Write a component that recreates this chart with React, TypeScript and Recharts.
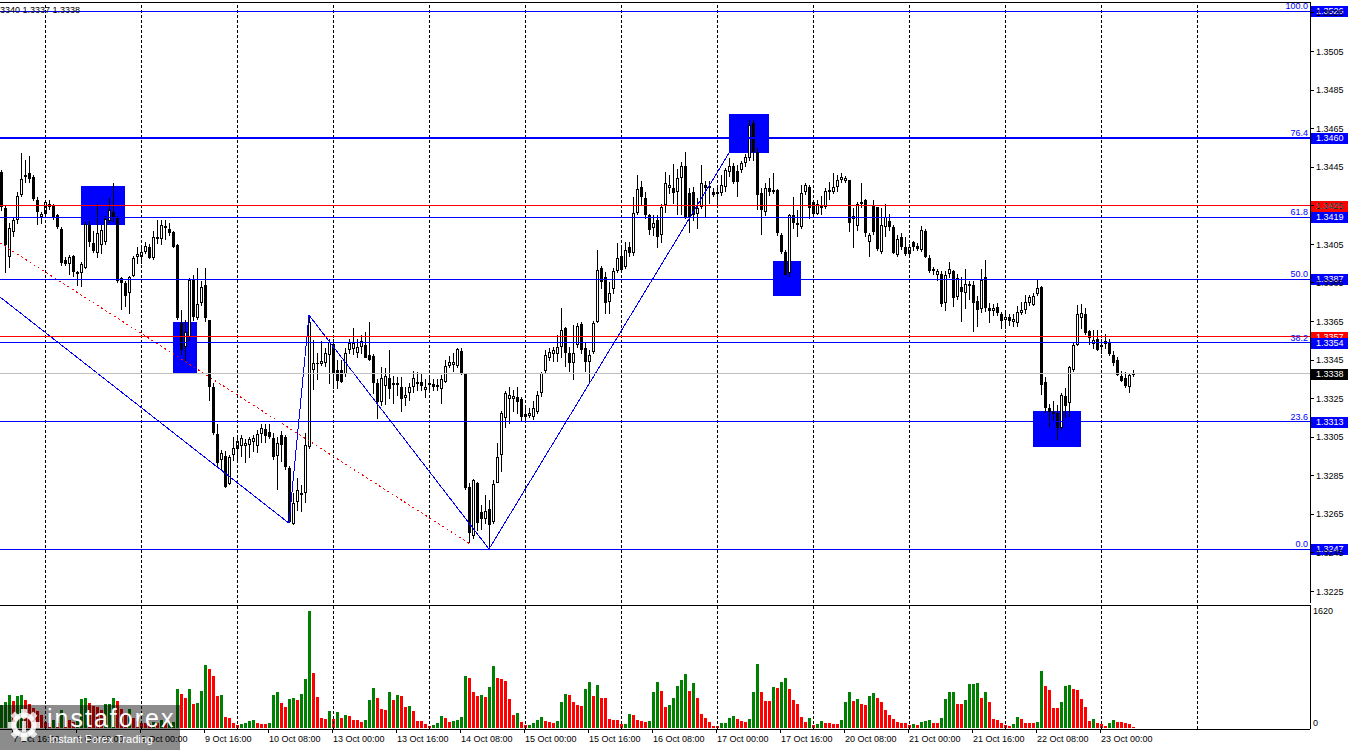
import React from 'react';
import { Bar, ComposedChart, ReferenceArea, ReferenceLine, XAxis, YAxis } from 'recharts';

// GBPUSD H1, prices kept in pips above 1.3000 (338 -> 1.3338)
const OPEN = [
  442.5, 424, 398.4, 411.4, 417.6, 430.6, 440, 442, 440, 428,
  419, 421, 426, 425, 420, 413, 397, 395, 399, 390.5,
  390, 393, 415, 405.6, 400.5, 404.6, 406, 417, 421.7, 419.2,
  387.5, 385, 379.7, 388.5, 398.5, 398.5, 401, 403.6, 398, 408,
  408, 413.6, 413, 411.4, 404.6, 364, 351.6, 356.9, 386.5, 366.8,
  374.6, 384, 365.7, 331, 306.6, 293.1, 295, 280.7, 295.6, 298.8,
  300.4, 300.4, 300.9, 302.5, 300.4, 306.6, 309, 307.6, 304.5, 295,
  306, 305, 289, 260, 271.5, 275, 276, 300, 339.8, 342.8,
  343, 343.4, 347.6, 353.3, 340, 340, 338, 350, 350.7, 348.6,
  352, 352.8, 347.6, 347, 333, 323, 331.5, 335.6, 332, 332,
  331, 325.5, 328, 331, 332.5, 333.5, 329.5, 332, 332.5, 331,
  330, 333.6, 342, 342.5, 342, 349.6, 337.7, 279.4, 254, 281.2,
  266, 262.5, 267.7, 261, 281.2, 295.6, 315, 325, 325, 326,
  324.7, 317, 316, 315.5, 318, 328, 339.3, 346, 348, 348,
  352, 361.5, 348.6, 343.4, 352.8, 363.6, 351, 343.9, 349, 364.7,
  392.7, 388, 375, 381.8, 391, 399, 393.2, 403.6, 400.5, 421.2,
  434.8, 429, 420, 413.5, 417.6, 409.8, 425.4, 434, 434, 432,
  439.4, 445.4, 431.6, 432, 421, 424.3, 436, 434, 432, 432,
  431.6, 434.8, 442.5, 445.4, 443, 443.5, 447, 449.8, 468, 452.8,
  431.6, 421.7, 434, 432, 433, 409.8, 401, 390, 420.3, 416,
  414, 432, 434.8, 427, 421, 424, 424.3, 432, 432, 434.8,
  438.3, 438, 438.3, 419.6, 414.6, 426, 428, 406, 425, 424.3,
  401, 414, 417, 414, 399.4, 408.8, 403.6, 400, 406, 404,
  402, 412, 398, 392.2, 389, 389.6, 374.6, 389.6, 391, 377.6,
  383, 380, 383.5, 384, 375.6, 371.4, 388, 372, 370.5, 372.5,
  369, 366, 367.5, 364.5, 364, 369.5, 370.9, 374.6, 373.5, 379.2,
  383, 333.6, 320, 318, 317.5, 309.7, 326.3, 322.7, 339.8, 352.8,
  366.8, 369, 360, 353.5, 356, 352, 353.3, 353.8, 347.6, 345,
  336.7, 335.6, 331, 337,
];
const HIGH = [
  443.5, 425, 416, 419, 432, 452.3, 449, 451, 441, 429.5,
  422, 428, 428, 426, 421, 414, 398.5, 399.5, 399.5, 391,
  396, 416.5, 417, 412, 426, 415, 419.5, 429, 436.8, 419.5,
  388, 386, 388.5, 399, 403.6, 403.6, 406, 405, 412, 417.6,
  417.6, 417.6, 416, 412, 405, 371, 365.7, 387.5, 389, 393,
  386, 393, 366, 333, 312, 298.5, 298, 295.5, 305, 306,
  306, 304, 305, 306, 308.7, 312, 312, 312, 307, 305,
  308, 306, 290, 276, 284, 280, 307, 368.3, 355.3, 348.6,
  355, 351, 356, 356, 345, 345, 351, 356, 361.6, 356,
  358, 359.6, 364.7, 348, 335, 341.3, 341, 350.2, 336.7, 336,
  336, 331, 333, 339.3, 339, 338, 335, 336.7, 335, 335,
  337, 345, 347, 348.6, 351.5, 351, 338, 281, 283.2, 282,
  269.8, 275, 272.5, 282.7, 302, 318.5, 329, 331, 329.5, 330.9,
  326, 320.5, 320, 324, 329, 339, 350, 351.5, 352, 358,
  372, 362, 352, 363, 364, 364.7, 354, 350, 365, 402,
  394, 390.6, 385.5, 392.7, 405.6, 404, 406, 406, 429.5, 441,
  438, 432, 421, 420, 420, 426, 442.5, 441, 446.6, 444,
  447.7, 452.8, 434, 434.6, 429, 446, 438, 438, 434, 436,
  441, 444.5, 450, 447, 446, 448, 452, 469.5, 469.5, 455,
  434, 437, 439.5, 442, 433.5, 411, 402, 421, 429.5, 423,
  436, 437, 436, 428, 428, 430, 434, 437.5, 442, 441,
  442, 440.5, 438.5, 424, 427, 436.8, 428.5, 411, 428, 424.5,
  424, 426, 421, 415, 410, 411, 409, 405, 407, 405.6,
  414.6, 412.8, 399.4, 393.5, 392, 391, 391, 396, 391.5, 389.6,
  388, 392, 386, 386, 378, 392, 397, 374.6, 374, 374.6,
  370, 370, 369, 369, 373, 375, 378.7, 378.5, 380, 386.5,
  383.5, 336, 322, 323.6, 321.7, 327.9, 330.4, 342, 354, 373.5,
  374, 372, 360.6, 360.6, 360.6, 356, 358.5, 356, 349.6, 346.6,
  339.3, 339, 338.3, 340,
];
const LOW = [
  422, 390, 392.7, 408.8, 415.5, 429.5, 437, 437, 427.5, 415,
  416, 420, 423, 417.6, 413, 394, 393.7, 389, 388, 383,
  382.8, 392, 403.6, 400.5, 398, 400, 404.5, 416, 416.5, 385,
  371, 372.5, 369, 388, 395, 395, 400, 397, 397, 405,
  404.6, 407, 409, 403, 365.5, 347.6, 343.9, 355, 365, 366,
  373, 365, 324, 306, 289.5, 288, 278.6, 280, 292.5, 293,
  294.6, 291.5, 294, 297, 296.8, 302, 302, 304, 293, 277.5,
  292, 288, 260.4, 259.5, 267, 266, 270.5, 299, 329.4, 334.6,
  342, 341, 332.5, 329.9, 330, 333, 336, 348, 347.6, 346,
  348, 346, 344.5, 327, 314, 321, 322, 324.7, 322, 326,
  318, 321, 323.5, 328, 329, 329, 325, 329, 329, 329,
  322, 333, 341, 338.6, 341, 337, 278, 250, 252, 256.8,
  257, 260, 247, 260, 281, 287, 310, 312, 318, 317,
  313, 312.4, 315, 314, 317, 326, 338, 344.5, 344, 344,
  346, 341, 339, 334.6, 351, 348, 339, 333, 348, 364,
  382, 369, 369, 379, 390, 390, 392, 398, 399, 420,
  425, 418, 410, 409, 403, 406, 421, 431, 426, 420,
  420, 418, 410.8, 417, 413, 423, 418.6, 426, 429.5, 425,
  430, 432, 440, 436, 429.5, 442, 445, 448, 448, 422.7,
  409.8, 420, 430, 431, 409, 400, 389, 388.5, 413, 409,
  413, 431, 418.6, 418.6, 420, 420, 423, 428, 431, 432,
  437, 437, 411.5, 403, 412, 424, 409, 398.4, 409.8, 401.5,
  400, 409, 412, 400, 398.4, 402, 399, 398, 402, 401.5,
  401, 398, 390, 389.5, 386, 372.5, 370.4, 387.5, 372.5, 376,
  364.7, 371, 376, 359.5, 362, 369, 370, 364, 368, 368,
  361, 361, 363, 362, 362, 368, 369, 373, 373, 378,
  327, 317.5, 310.2, 313, 303.4, 308.7, 315, 315.5, 339, 352,
  361, 358, 353, 350.6, 349.6, 348, 350.6, 347, 342, 337,
  333.5, 330.9, 328, 336.5,
];
const CLOSE = [
  424.3, 404.6, 413.5, 417.6, 430, 438.9, 441, 439, 428.5, 421.7,
  421, 427, 424.5, 419, 414, 395.3, 395, 398.5, 390.6, 389.5,
  394.8, 415.5, 406, 401.5, 411, 412.4, 418, 422.8, 419.2, 386,
  385, 378, 388, 397.8, 400, 401, 404, 398, 408.8, 409,
  415, 414.6, 411, 403.6, 366.8, 350.2, 359.5, 386.5, 367.3, 374,
  383, 366.8, 331, 307, 291.6, 296.8, 279, 294.6, 299.6, 303,
  304.5, 302, 303.9, 304.5, 306.6, 310, 305.6, 305, 294.6, 302,
  301, 289.5, 261, 271, 277.6, 276, 301, 364.7, 343.4, 343.4,
  344.5, 348.6, 354.3, 338.2, 334, 333.6, 348.6, 353.8, 353.8, 351.6,
  355, 346, 345, 333, 323, 335.6, 336.7, 330, 333, 333,
  324.7, 327, 331, 335.6, 333.5, 331.5, 331, 333, 331, 332,
  335, 342, 343.8, 344, 350.7, 338, 278.6, 255.2, 282.7, 260.4,
  262.5, 266.7, 259.4, 280.6, 294.6, 317.5, 327.9, 327, 326.5, 323,
  315.5, 315.5, 317.5, 320, 326.8, 338.3, 347.6, 349, 350, 351.6,
  360.5, 348.6, 343.4, 348.6, 362.6, 350.2, 343.9, 347.6, 364.2, 391.7,
  385.5, 374.6, 380, 391, 397.8, 391.7, 402, 400.5, 421.2, 433.7,
  429.5, 420, 412.4, 416, 409, 424.3, 436.8, 436, 431.6, 439.4,
  445.4, 418.6, 418.6, 420, 424, 436.8, 434, 435.5, 430.6, 431,
  436, 443.5, 445.4, 437.3, 437.5, 447, 450.3, 467, 452.8, 430.6,
  422.7, 434, 432, 433, 410.8, 401, 389, 420.3, 416, 415,
  431.6, 436, 424, 421, 426, 425, 432.7, 433, 434.5, 438.3,
  440, 439.5, 416, 418, 426, 427, 411, 409.8, 411.4, 402.5,
  415, 419, 414, 400.5, 407.7, 403.6, 400, 403.6, 403.6, 402.5,
  412.4, 398.4, 391, 391, 391, 374, 389, 392, 377, 387.5,
  380.5, 384.5, 384.5, 374.6, 370.9, 386.5, 372, 370.5, 372, 369.5,
  365, 367.5, 365.5, 366.5, 370, 371, 375, 377.6, 378, 382.5,
  332, 320, 318, 317, 310, 326.8, 321, 341.3, 352.8, 369,
  369.5, 359, 356.5, 355.5, 350.2, 353, 355, 348, 343.4, 337.2,
  334, 331.5, 337.2, 338,
];
const VOLUME = [
  320, 365, 457, 378, 443, 457, 388, 330, 280, 240,
  180, 88, 65, 111, 65, 249, 157, 111, 88, 95,
  401, 415, 341, 305, 286, 249, 332, 335, 415, 378,
  263, 203, 263, 134, 100, 74, 65, 55, 88, 74,
  111, 74, 80, 88, 535, 471, 420, 535, 332, 341,
  517, 872, 817, 720, 443, 450, 148, 134, 74, 37,
  55, 65, 92, 111, 65, 62, 55, 65, 457, 498,
  341, 286, 397, 411, 388, 471, 678, 1620, 766, 429,
  138, 129, 235, 125, 217, 138, 175, 161, 111, 105,
  88, 111, 388, 554, 411, 258, 245, 498, 388, 452,
  443, 286, 305, 235, 97, 92, 55, 32, 42, 74,
  166, 134, 83, 95, 110, 150, 720, 697, 503, 443,
  457, 434, 572, 863, 697, 674, 655, 397, 180, 212,
  83, 42, 46, 74, 111, 148, 97, 83, 74, 102,
  365, 471, 457, 365, 318, 305, 535, 642, 443, 595,
  420, 418, 125, 111, 110, 55, 60, 194, 180, 111,
  97, 88, 97, 503, 642, 517, 295, 318, 420, 586,
  665, 748, 517, 628, 420, 194, 134, 83, 28, 25,
  74, 75, 134, 166, 125, 97, 83, 129, 503, 886,
  503, 378, 375, 572, 560, 642, 697, 540, 388, 332,
  148, 88, 143, 42, 55, 97, 74, 65, 62, 50,
  111, 365, 503, 374, 401, 328, 314, 443, 484, 411,
  360, 249, 180, 125, 83, 74, 65, 42, 55, 37,
  83, 97, 111, 69, 68, 143, 402, 498, 500, 332,
  330, 388, 609, 612, 623, 415, 498, 360, 125, 111,
  65, 37, 28, 55, 152, 125, 69, 68, 67, 83,
  789, 582, 526, 277, 275, 360, 582, 595, 540, 526,
  401, 291, 97, 125, 69, 55, 28, 69, 111, 83,
  82, 69, 55, 14,
];

// bar index of each time label, and the text
const TIME_TICKS = [3, 19, 35, 51, 67, 83, 99, 115, 131, 147, 163, 179, 195, 211, 227, 243, 259, 275];
const TIME_LABELS = [
  '7 Oct 16:00', '8 Oct 08:00', '9 Oct 00:00', '9 Oct 16:00', '10 Oct 08:00', '13 Oct 00:00',
  '13 Oct 16:00', '14 Oct 08:00', '15 Oct 00:00', '15 Oct 16:00', '16 Oct 08:00', '17 Oct 00:00',
  '17 Oct 16:00', '20 Oct 08:00', '21 Oct 00:00', '21 Oct 16:00', '22 Oct 08:00', '23 Oct 00:00',
];
const DAY_LINES = [11, 35, 59, 83, 107, 131, 155, 179, 203, 227, 251, 275, 299];
const PRICE_TICKS = [
  1.3225, 1.3245, 1.3265, 1.3285, 1.3305, 1.3325, 1.3345, 1.3365,
  1.3385, 1.3405, 1.3425, 1.3445, 1.3465, 1.3485, 1.3505, 1.3525,
];
const VOLUME_TICKS = [0, 1620];

const FIB_LEVELS = [
  { pct: '100.0', price: 1.3526 },
  { pct: '76.4', price: 1.346 },
  { pct: '61.8', price: 1.3419 },
  { pct: '50.0', price: 1.3387 },
  { pct: '38.2', price: 1.3354 },
  { pct: '23.6', price: 1.3313 },
  { pct: '0.0', price: 1.3247 },
];
const RED_LEVELS = [1.3425, 1.3357];
const LAST_PRICE = 1.3338;

const ZONES = [
  { from: 20, to: 31, low: 1.3415, high: 1.34352 },
  { from: 43, to: 49, low: 1.33377, high: 1.33647 },
  { from: 182, to: 192, low: 1.34524, high: 1.34726 },
  { from: 193, to: 200, low: 1.33782, high: 1.33963 },
  { from: 258, to: 270, low: 1.32999, high: 1.33185 },
];
const ZIGZAG = [
  { i: -0.25, price: 1.33777 },
  { i: 72, price: 1.32604 },
  { i: 77, price: 1.33683 },
  { i: 122, price: 1.3247 },
  { i: 187, price: 1.34695 },
];
const RED_TREND = [
  { i: -0.25, price: 1.34057 },
  { i: 117, price: 1.325 },
];

const X_DOMAIN: [number, number] = [-0.25, 327.25];
const PRICE_DOMAIN: [number, number] = [1.3219, 1.35307];
const VOL_DOMAIN: [number, number] = [-14, 1703];

const FONT = '"Liberation Sans", Arial, Helvetica, sans-serif';
const BLUE = '#0000ff';

const toPrice = (v: number) => Math.round((1.3 + v / 10000) * 1e5) / 1e5;

const rows = OPEN.map((o, i) => ({
  i,
  o: toPrice(o),
  h: toPrice(HIGH[i]),
  l: toPrice(LOW[i]),
  c: toPrice(CLOSE[i]),
  range: [toPrice(LOW[i]), toPrice(HIGH[i])],
  vol: VOLUME[i],
  volUp: i === 0 || VOLUME[i] > VOLUME[i - 1],
}));

function CandleShape(props: any) {
  const { x, y, width, height, payload } = props;
  if (x == null || !payload) return null;
  const cx = Math.round(x + width / 2);
  const top = Math.min(y, y + height);
  const span = Math.abs(height);
  const { o, h, l, c } = payload;
  const toY = (p: number) => top + ((h - p) / (h - l || 1)) * span;
  const bodyTop = Math.round(Math.min(toY(o), toY(c)));
  const bodyBot = Math.max(Math.round(Math.max(toY(o), toY(c))), bodyTop + 1);
  const up = c >= o;
  return (
    <g>
      <rect x={cx} y={Math.round(top)} width={1} height={Math.max(1, Math.round(span))} fill="#000" />
      <rect x={cx - 1} y={bodyTop} width={3} height={bodyBot - bodyTop} fill="#000" />
      {up && bodyBot - bodyTop > 2 && (
        <rect x={cx} y={bodyTop + 1} width={1} height={bodyBot - bodyTop - 2} fill="#fff" />
      )}
    </g>
  );
}

function VolumeShape(props: any) {
  const { x, y, width, height, payload } = props;
  if (x == null || !payload) return null;
  const cx = Math.round(x + width / 2);
  const top = Math.round(Math.min(y, y + height));
  const bot = Math.round(Math.max(y, y + height));
  return (
    <rect x={cx - 1} y={top} width={3} height={Math.max(1, bot - top)} fill={payload.volUp ? '#008000' : '#ff0000'} />
  );
}

function PriceTick(props: any) {
  const { x, y, payload } = props;
  return (
    <text x={x} y={y} dy="0.35em" fontSize={9} fontFamily={FONT} fill="#000">
      {Number(payload.value).toFixed(4)}
    </text>
  );
}

function VolumeTick(props: any) {
  const { y, payload } = props;
  return (
    <text x={1313} y={payload.value === 0 ? y - 5 : y} dy="0.35em" fontSize={9} fontFamily={FONT} fill="#000">
      {payload.value}
    </text>
  );
}

function TimeTick(props: any) {
  const { x, payload } = props;
  const k = TIME_TICKS.indexOf(payload.value);
  const tx = Math.round(x) - 1;
  return (
    <g>
      <rect x={tx} y={124} width={1} height={4} fill="#000" />
      <text x={tx + 1} y={137} fontSize={9} fontFamily={FONT} fill="#000">
        {TIME_LABELS[k]}
      </text>
    </g>
  );
}

function LevelTag(props: any) {
  const { viewBox, text, fib, bg } = props;
  if (!viewBox) return null;
  const y = Math.round(viewBox.y);
  const right = Math.round(viewBox.x + viewBox.width);
  return (
    <g>
      {fib && (
        <text x={right - 2} y={y - 2} textAnchor="end" fontSize={9} fontFamily={FONT} fill={BLUE}>
          {fib}
        </text>
      )}
      <rect x={right + 1} y={y - 5} width={37} height={11} fill={bg} />
      <text x={right + 6} y={y} dy="0.35em" fontSize={9} fontFamily={FONT} fill="#fff">
        {text}
      </text>
    </g>
  );
}

function GearLogo() {
  const teeth = [0, 45, 90, 135, 180, 225, 270, 315];
  return (
    <svg width={38} height={36} style={{ position: 'absolute', left: 5, top: 2 }}>
      <g fill="#fff" opacity={0.8}>
        {teeth.map((a) => (
          <rect key={a} x={16} y={2} width={6} height={8} transform={`rotate(${a} 19 18)`} />
        ))}
      </g>
      <circle cx={19} cy={18} r={10} fill="none" stroke="#fff" strokeWidth={5} opacity={0.8} />
      <rect x={17} y={14} width={4} height={11} fill="#fff" opacity={0.8} />
      <circle cx={19} cy={10} r={2.2} fill="#fff" opacity={0.8} />
    </svg>
  );
}

export default function App() {
  return (
    <div
      style={{
        position: 'absolute',
        left: 0,
        top: 0,
        width: 1350,
        height: 750,
        overflow: 'hidden',
        background: '#fff',
        fontFamily: FONT,
      }}
    >
      <div style={{ position: 'absolute', left: 0, top: 0 }}>
        <ComposedChart
          width={1350}
          height={605}
          data={rows}
          margin={{ top: 2, right: 0, bottom: 2, left: 0 }}
          style={{ shapeRendering: 'crispEdges' }}
        >
          <XAxis
            dataKey="i"
            type="number"
            domain={X_DOMAIN}
            allowDataOverflow
            height={0}
            tick={false}
            tickLine={false}
            axisLine={{ stroke: '#000' }}
          />
          <YAxis
            orientation="right"
            width={40}
            type="number"
            domain={PRICE_DOMAIN}
            allowDataOverflow
            ticks={PRICE_TICKS}
            interval={0}
            tickSize={4}
            tickLine={{ stroke: '#000' }}
            axisLine={{ stroke: '#000' }}
            tick={<PriceTick />}
          />
          {DAY_LINES.map((d) => (
            <ReferenceLine key={`d${d}`} x={d} stroke="#000" strokeDasharray="3 2" />
          ))}
          {ZONES.map((z) => (
            <ReferenceArea
              key={`z${z.from}`}
              x1={z.from}
              x2={z.to}
              y1={z.low}
              y2={z.high}
              fill={BLUE}
              fillOpacity={1}
              stroke="none"
            />
          ))}
          {ZIGZAG.slice(1).map((p, k) => (
            <ReferenceLine
              key={`zz${k}`}
              segment={[
                { x: ZIGZAG[k].i, y: ZIGZAG[k].price },
                { x: p.i, y: p.price },
              ]}
              stroke={BLUE}
              strokeWidth={1}
            />
          ))}
          <ReferenceLine
            segment={[
              { x: RED_TREND[0].i, y: RED_TREND[0].price },
              { x: RED_TREND[1].i, y: RED_TREND[1].price },
            ]}
            stroke="#ff0000"
            strokeDasharray="2 3"
          />
          <Bar dataKey="range" barSize={3} isAnimationActive={false} shape={(p: any) => <CandleShape {...p} />} />
          <ReferenceLine y={PRICE_DOMAIN[1]} stroke="#000" />
          <ReferenceLine
            y={LAST_PRICE}
            stroke="#c0c0c0"
            label={<LevelTag text={LAST_PRICE.toFixed(4)} bg="#000" />}
          />
          {RED_LEVELS.map((p) => (
            <ReferenceLine
              key={`r${p}`}
              y={p}
              stroke="#ff0000"
              label={<LevelTag text={p.toFixed(4)} bg="#ff0000" />}
            />
          ))}
          {FIB_LEVELS.map((f) => (
            <ReferenceLine
              key={`f${f.pct}`}
              y={f.price}
              stroke={BLUE}
              strokeWidth={f.pct === '76.4' ? 2 : 1}
              label={<LevelTag text={f.price.toFixed(4)} fib={f.pct} bg={BLUE} />}
            />
          ))}
        </ComposedChart>
      </div>

      <div style={{ position: 'absolute', left: 0, top: 605 }}>
        <ComposedChart
          width={1350}
          height={145}
          data={rows}
          margin={{ top: 0, right: 0, bottom: 0, left: 0 }}
          style={{ shapeRendering: 'crispEdges' }}
        >
          <XAxis
            dataKey="i"
            type="number"
            domain={X_DOMAIN}
            allowDataOverflow
            ticks={TIME_TICKS}
            interval={0}
            height={21}
            tickLine={false}
            axisLine={{ stroke: '#000' }}
            tick={<TimeTick />}
          />
          <YAxis
            orientation="right"
            width={40}
            type="number"
            domain={VOL_DOMAIN}
            allowDataOverflow
            ticks={VOLUME_TICKS}
            interval={0}
            tickLine={false}
            axisLine={{ stroke: '#000' }}
            tick={<VolumeTick />}
          />
          {DAY_LINES.map((d) => (
            <ReferenceLine key={`vd${d}`} x={d} stroke="#000" strokeDasharray="3 2" />
          ))}
          <ReferenceLine y={VOL_DOMAIN[1]} stroke="#000" />
          <Bar dataKey="vol" barSize={3} isAnimationActive={false} shape={(p: any) => <VolumeShape {...p} />} />
        </ComposedChart>
      </div>

      <div
        style={{
          position: 'absolute',
          right: 1270,
          top: 5,
          fontSize: 9,
          whiteSpace: 'nowrap',
          color: '#000',
        }}
      >
        1.3340 1.3337 1.3338
      </div>

      <div
        style={{
          position: 'absolute',
          left: 0,
          top: 705,
          width: 180,
          height: 45,
          background: 'rgba(0,0,0,0.45)',
        }}
      >
        <GearLogo />
        <div
          style={{
            position: 'absolute',
            left: 47,
            top: -1,
            fontSize: 25,
            letterSpacing: 2,
            color: '#fff',
            lineHeight: '28px',
          }}
        >
          instaforex
        </div>
        <div
          style={{
            position: 'absolute',
            left: 49,
            top: 28,
            fontSize: 11,
            color: '#fff',
            lineHeight: '13px',
          }}
        >
          Instant Forex Trading
        </div>
      </div>
    </div>
  );
}
